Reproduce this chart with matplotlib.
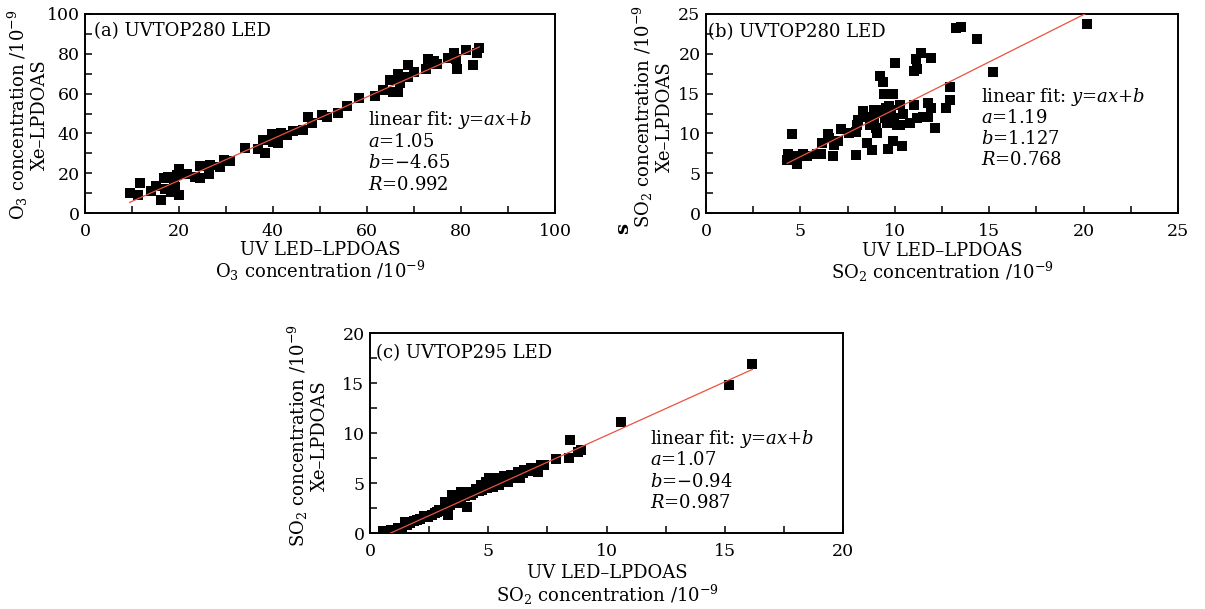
import matplotlib
matplotlib.use("Agg")
import matplotlib.pyplot as plt
import numpy as np
from matplotlib.ticker import MultipleLocator

plt.rcParams['font.family'] = ['DejaVu Serif']
plt.rcParams['mathtext.fontset'] = 'dejavuserif'

W, H = 1205, 609

# ---------------- data ----------------
# (a) O3, UVTOP280 LED
o3_led = [9.5, 11.3, 11.6, 14.1, 15.0, 16.2, 16.8, 17.6, 18.2, 19.2, 19.6, 19.9, 20.1,
          18.9, 17.1, 21.7, 23.5, 24.5, 24.4, 26.3, 26.6, 28.8, 29.5, 30.9, 34.0, 36.9,
          37.8, 38.3, 39.7, 40.1, 41.1, 41.8, 42.9, 44.3, 46.3, 47.5, 48.2, 50.5, 51.5,
          53.9, 55.8, 58.3, 61.8, 63.4, 64.9, 65.6, 66.7, 66.6, 67.1, 68.7, 68.7, 70.1,
          72.6, 72.9, 73.1, 74.3, 74.9, 77.2, 78.6, 78.6, 78.9, 79.2, 81.1, 82.5, 83.4, 83.9]
o3_xe = [10.0, 8.8, 15.0, 11.3, 13.5, 6.6, 17.7, 18.0, 10.5, 13.0, 18.9, 22.3, 8.8,
         15.5, 12.2, 19.8, 18.0, 17.7, 23.5, 19.8, 24.0, 23.1, 26.5, 26.2, 32.8, 32.4,
         36.7, 29.9, 39.7, 35.8, 35.0, 40.0, 39.2, 41.4, 41.7, 48.0, 45.1, 49.3, 48.1,
         50.5, 54.0, 57.8, 59.0, 62.0, 67.0, 60.6, 60.8, 70.0, 65.4, 74.3, 68.4, 70.9,
         72.5, 77.2, 74.7, 76.4, 74.7, 77.7, 80.2, 78.9, 77.2, 72.5, 82.0, 74.5, 80.6, 83.1]
o3_fit = (1.05, -4.65)

# (b) SO2, UVTOP280 LED
so2b_led = [4.36, 4.3, 4.54, 4.6, 4.84, 5.16, 5.34, 5.87, 6.09, 6.14, 6.46, 6.5, 6.73,
            6.76, 6.98, 7.15, 7.6, 7.92, 7.92, 8.0, 8.04, 8.33, 8.45, 8.54, 8.68, 8.8,
            8.9, 8.9, 9.0, 9.07, 9.16, 9.2, 9.34, 9.4, 9.43, 9.47, 9.52, 9.6, 9.65, 9.7,
            9.8, 9.9, 9.93, 9.96, 10.0, 10.14, 10.25, 10.3, 10.4, 10.43, 10.8, 11.0, 11.03,
            11.1, 11.2, 11.2, 11.4, 11.5, 11.74, 11.74, 11.9, 11.9, 12.15, 12.72, 12.9,
            12.95, 13.25, 13.5, 14.36, 15.2, 20.2]
so2b_xe = [7.4, 6.65, 9.95, 7.1, 6.15, 7.4, 7.1, 7.4, 7.4, 8.8, 9.95, 9.4, 7.2,
           8.55, 9.0, 10.5, 10.0, 7.3, 10.2, 11.1, 11.7, 12.8, 12.1, 8.8, 11.1, 7.9,
           13.0, 11.7, 10.7, 10.0, 13.0, 17.2, 12.6, 16.4, 15.0, 11.9, 13.2, 11.3, 8.0, 13.4,
           13.0, 9.0, 15.0, 11.9, 18.9, 11.1, 13.6, 11.1, 8.4, 12.5, 11.3, 13.6, 17.8,
           19.4, 18.1, 11.9, 20.1, 12.1, 13.8, 12.1, 19.5, 13.2, 10.7, 13.2, 15.8,
           14.2, 23.3, 23.4, 21.8, 17.7, 23.7]
so2b_fit = (1.19, 1.127)

# (c) SO2, UVTOP295 LED
so2c_led = [0.57, 0.9, 1.06, 1.2, 1.35, 1.5, 1.56, 1.7, 1.84, 2.0, 2.13, 2.27, 2.45, 2.62,
            2.75, 2.84, 2.9, 3.05, 3.19, 3.3, 3.4, 3.48, 3.6, 3.66, 3.75, 3.83, 3.83, 4.0,
            4.11, 4.11, 4.26, 4.35, 4.47, 4.6, 4.68, 4.75, 4.89, 4.95, 5.04, 5.1, 5.18,
            5.32, 5.4, 5.46, 5.6, 5.67, 5.82, 5.9, 5.96, 6.1, 6.24, 6.35, 6.45, 6.52, 6.67,
            6.8, 6.95, 7.09, 7.23, 7.37, 7.87, 8.43, 8.47, 8.8, 8.94, 10.6, 15.2, 16.17]
so2c_xe = [0.2, 0.35, 0.27, 0.55, 0.5, 1.1, 0.77, 1.0, 1.18, 1.35, 1.45, 1.7, 1.6, 1.78,
           2.05, 2.12, 2.3, 2.2, 3.06, 1.78, 2.8, 3.8, 3.3, 2.96, 3.1, 3.5, 4.07, 3.75,
           2.6, 4.1, 3.8, 4.0, 4.4, 4.2, 4.8, 4.3, 5.15, 4.5, 5.5, 4.8, 4.65,
           5.55, 5.1, 4.8, 5.3, 5.75, 5.15, 5.55, 5.8, 5.5, 6.15, 5.5, 6.0, 6.3, 6.23,
           6.55, 6.4, 6.15, 6.83, 6.77, 7.44, 7.5, 9.26, 8.1, 8.35, 11.1, 14.8, 16.9]
so2c_fit = (1.07, -0.94)

# ---------------- layout ----------------
fig = plt.figure(figsize=(W / 100, H / 100), dpi=100)
FS = 13
TFS = 12.5

def px_axes(l, t, r, b):
    return fig.add_axes([l / W, 1 - b / H, (r - l) / W, (b - t) / H])

def ftxt(x, y, s, **kw):
    kw.setdefault('fontsize', FS)
    fig.text(x / W, 1 - y / H, s, **kw)

red = '#e8533f'

def panel(ax, xs, ys, fit, lim, major, minor):
    ax.plot(xs, ys, 's', color='black', ms=7.2, mec='black', mew=0, zorder=3)
    a, b = fit
    xl = np.array([min(xs), max(xs)])
    ax.plot(xl, a * xl + b, '-', color=red, lw=0.9, zorder=4)
    ax.set_xlim(0, lim)
    ax.set_ylim(0, lim)
    ax.xaxis.set_major_locator(MultipleLocator(major))
    ax.yaxis.set_major_locator(MultipleLocator(major))
    ax.xaxis.set_minor_locator(MultipleLocator(minor))
    ax.yaxis.set_minor_locator(MultipleLocator(minor))
    ax.tick_params(which='both', direction='in', length=5, width=1.1,
                   top=False, right=False, labelsize=TFS, color='black')
    ax.tick_params(axis='x', which='major', pad=7.5)
    ax.tick_params(axis='y', which='major', pad=4)
    for sp in ax.spines.values():
        sp.set_linewidth(1.4)
        sp.set_color('black')

axa = px_axes(85, 14, 555, 213)
panel(axa, o3_led, o3_xe, o3_fit, 100, 20, 10)
axb = px_axes(706, 14, 1178, 213)
panel(axb, so2b_led, so2b_xe, so2b_fit, 25, 5, 2.5)
axc = px_axes(370, 333, 843, 533)
panel(axc, so2c_led, so2c_xe, so2c_fit, 20, 5, 2.5)

# panel titles
ftxt(94, 31, '(a) UVTOP280 LED', ha='left', va='center')
ftxt(708, 32, '(b) UVTOP280 LED', ha='left', va='center')
ftxt(376, 353, '(c) UVTOP295 LED', ha='left', va='center')

# fit annotations
def fit_block(x, ys, a_s, b_s, r_s):
    lines = ['linear fit: $y$=$ax$+$b$', '$a$=' + a_s, '$b$=' + b_s, '$R$=' + r_s]
    for yy, s in zip(ys, lines):
        ftxt(x, yy, s, ha='left', va='center')

fit_block(368, [120, 141.7, 163.3, 185], '1.05', '\u22124.65', '0.992')
fit_block(981, [97.3, 118.3, 139.3, 160], '1.19', '1.127', '0.768')
fit_block(650, [439.3, 460, 481.7, 502.7], '1.07', '\u22120.94', '0.987')

# x labels (two lines each)
for cx, cy, sp in [(320, 262, 'O$_3$'), (942, 263, 'SO$_2$'), (607, 585.5, 'SO$_2$')]:
    ftxt(cx, cy, 'UV LED\u2013LPDOAS\n' + sp + ' concentration /10$^{-9}$',
         ha='center', va='center', multialignment='center', linespacing=1.0)

# y labels (two lines each)
for cx, cy, sp in [(27, 115, 'O$_3$'), (652, 117, 'SO$_2$'), (307, 436, 'SO$_2$')]:
    ftxt(cx, cy, sp + ' concentration /10$^{-9}$\nXe\u2013LPDOAS',
         ha='center', va='center', rotation=90, multialignment='center',
         linespacing=1.05)
ftxt(623, 228, 's', ha='center', va='center', rotation=90, fontweight='bold',
     fontsize=14)

fig.savefig('out.png', dpi=100)
